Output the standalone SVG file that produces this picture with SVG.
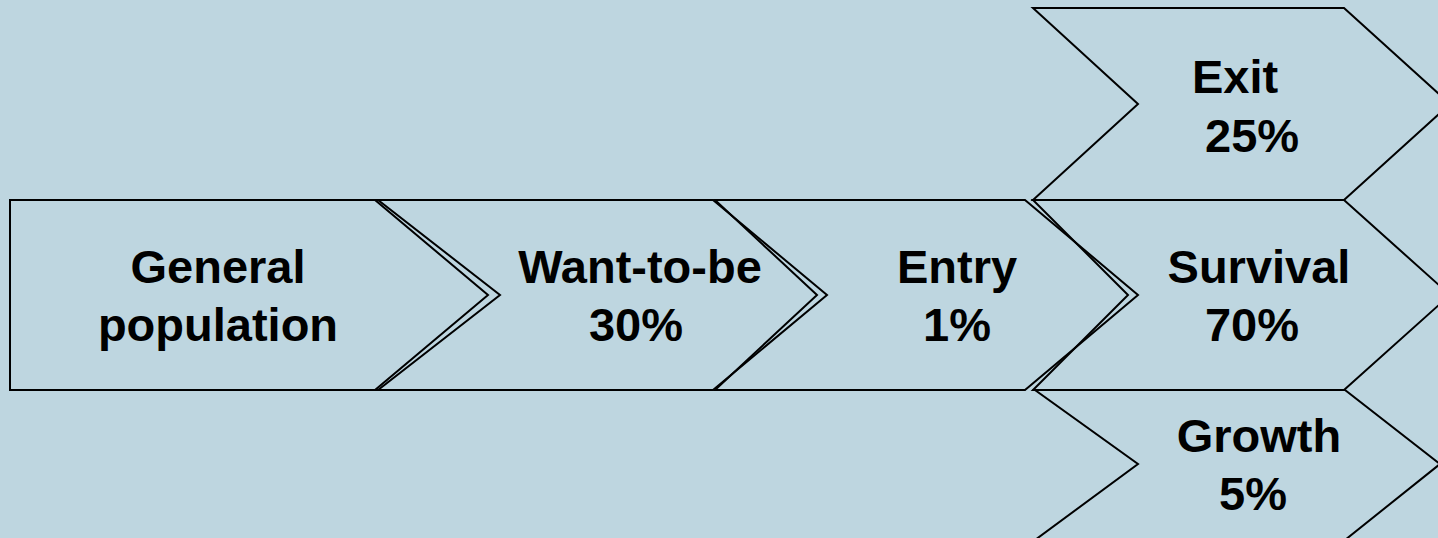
<svg xmlns="http://www.w3.org/2000/svg" width="1438" height="538" viewBox="0 0 1438 538">
<style>
.bg{fill:#BED6E0}
.sh{fill:none;stroke:#000;stroke-width:2;stroke-linejoin:miter}
.t{font-family:"Liberation Sans",Arial,sans-serif;font-weight:bold;font-size:47px;fill:#000}
.m{text-anchor:middle}
</style>
<rect class="bg" x="0" y="0" width="1438" height="538"/>
<g id="general">
<path class="sh" d="M10,200 L378,200 L500,295 L378,390 L10,390 Z"/>
<text class="t m" x="218" y="283">General</text>
<text class="t m" x="218" y="341">population</text>
</g>
<g id="wanttobe">
<path class="sh" d="M375,200 L713,200 L827,295 L713,390 L375,390 L488,295 Z"/>
<text class="t m" x="640" y="283">Want-to-be</text>
<text class="t m" x="636" y="341">30%</text>
</g>
<g id="entry">
<path class="sh" d="M715,200 L1025,200 L1138,295 L1025,390 L715,390 L817,295 Z"/>
<text class="t m" x="957" y="283">Entry</text>
<text class="t m" x="957" y="341">1%</text>
</g>
<g id="exit">
<path class="sh" d="M1033,8 L1344,8 L1450,104 L1344,200 L1033,200 L1138,104 Z"/>
<text class="t" x="1192" y="93">Exit</text>
<text class="t" x="1205" y="152">25%</text>
</g>
<g id="survival">
<path class="sh" d="M1033,200 L1344,200 L1450,295 L1344,390 L1033,390 L1128,295 Z"/>
<text class="t m" x="1259" y="283">Survival</text>
<text class="t m" x="1252" y="341">70%</text>
</g>
<g id="growth">
<path class="sh" d="M1035,390 L1345,390 L1440,464 L1345,540 L1035,540 L1138,464 Z"/>
<text class="t m" x="1259" y="452">Growth</text>
<text class="t m" x="1253" y="510">5%</text>
</g>
<g id="connectors"></g>
</svg>
